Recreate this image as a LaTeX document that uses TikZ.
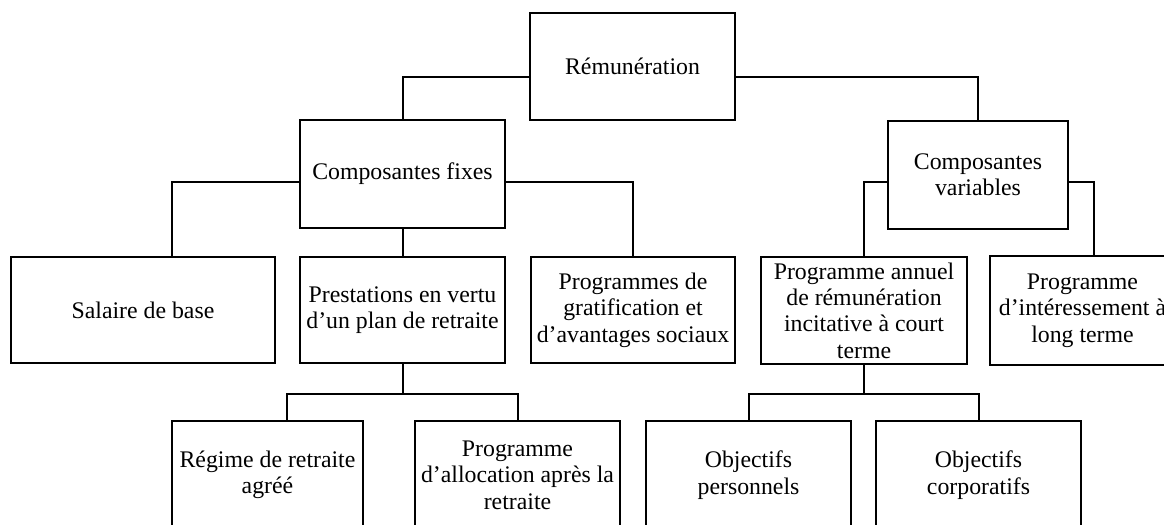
\documentclass[tikz,border=0pt]{standalone}
\usepackage{fontspec}
\setmainfont{Liberation Serif}
\usetikzlibrary{calc}
\begin{document}
\begin{tikzpicture}[x=0.5pt,y=-0.5pt,
  box/.style={draw, line width=1pt, inner sep=0pt, align=center,
    font=\fontsize{11.9}{13.2}\selectfont},
  link/.style={line width=1pt}]
\clip (0,0) rectangle (1164,525);

% top level
\node[box, minimum width=102.5pt, minimum height=53.5pt] (rem) at (632.5,66.5) {Rémunération};

% second level
\node[box, minimum width=102.5pt, minimum height=54pt] (fix) at (402.5,174) {Composantes fixes};
\node[box, minimum width=90pt, minimum height=54pt] (var) at (978,175) {Composantes\\variables};

% third level
\node[box, minimum width=132pt, minimum height=53pt] (sal) at (143,310) {Salaire de base};
\node[box, minimum width=102.5pt, minimum height=53pt] (pre) at (402.5,310) {Prestations en vertu\\d’un plan de retraite};
\node[box, minimum width=102pt, minimum height=53pt] (gra) at (633,310) {Programmes de\\gratification et\\d’avantages sociaux};
\node[box, minimum width=103pt, minimum height=53.5pt] (ann) at (864,310.5) {Programme annuel\\de rémunération\\incitative à court\\terme};
\node[box, minimum width=92.5pt, minimum height=54.5pt] (int) at (1082.5,310.5) {Programme\\d’intéressement à\\long terme};

% fourth level
\node[box, minimum width=95.5pt, minimum height=54pt] (reg) at (267.5,475) {Régime de retraite\\agréé};
\node[box, minimum width=102.5pt, minimum height=54pt] (all) at (517.5,475) {Programme\\d’allocation après la\\retraite};
\node[box, minimum width=102.5pt, minimum height=54pt] (per) at (748.5,475) {Objectifs\\personnels};
\node[box, minimum width=102.5pt, minimum height=54pt] (cor) at (978.5,475) {Objectifs\\corporatifs};

% connectors
\draw[link] ($(rem.north west)!0.6!(rem.south west)$) -| (fix.north);
\draw[link] ($(rem.north east)!0.6!(rem.south east)$) -| (var.north);
\draw[link] ($(fix.north west)!0.574!(fix.south west)$) -| ($(sal.north west)!0.61!(sal.north east)$);
\draw[link] ($(fix.north east)!0.574!(fix.south east)$) -| (gra.north);
\draw[link] (fix.south) -- (pre.north);
\draw[link] ($(var.north west)!0.565!(var.south west)$) -| (ann.north);
\draw[link] ($(var.north east)!0.565!(var.south east)$) -| ($(int.north west)!0.562!(int.north east)$);

\coordinate (pj) at ($(pre.south)+(0,30)$);
\draw[link] (pre.south) -- (pj);
\draw[link] ($(reg.north west)!0.6!(reg.north east)$) |- (pj) -| (all.north);

\coordinate (aj) at ($(ann.south)+(0,29)$);
\draw[link] (ann.south) -- (aj);
\draw[link] (per.north) |- (aj) -| (cor.north);
\end{tikzpicture}
\end{document}
